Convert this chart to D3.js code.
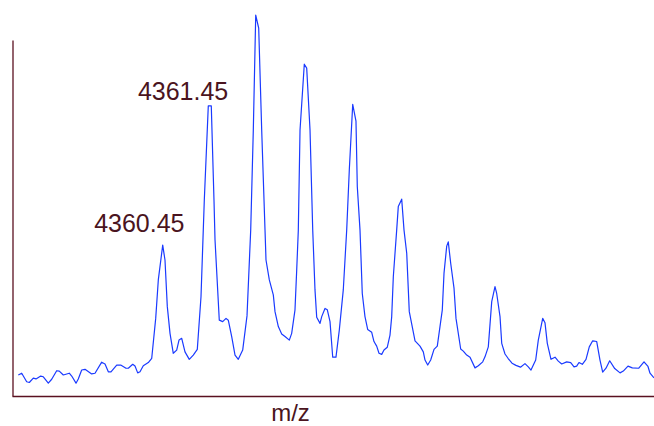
<!DOCTYPE html>
<html>
<head>
<meta charset="utf-8">
<script src="https://cdn.jsdelivr.net/npm/d3@7"></script>
<style>
  html, body { margin: 0; padding: 0; background: #ffffff; }
  svg { display: block; }
</style>
</head>
<body>
<script>
// m/z values (Da) and relative intensity
const mz = [
  4357.383, 4357.455, 4357.560, 4357.615, 4357.700, 4357.757, 4357.856, 4357.911, 4358.016, 4358.088,
  4358.193, 4358.248, 4358.333, 4358.459, 4358.510, 4358.601, 4358.649, 4358.721, 4358.791, 4358.932,
  4359.002, 4359.143, 4359.213, 4359.283, 4359.339, 4359.460, 4359.544, 4359.656, 4359.705, 4359.798,
  4359.846, 4359.903, 4359.952, 4360.021, 4360.127, 4360.199, 4360.283, 4360.338, 4360.431, 4360.479,
  4360.528, 4360.585, 4360.654, 4360.726, 4360.775, 4360.832, 4360.901, 4360.992, 4361.076, 4361.161,
  4361.239, 4361.309, 4361.393, 4361.456, 4361.513, 4361.535, 4361.625, 4361.697, 4361.767, 4361.815,
  4361.887, 4361.957, 4362.026, 4362.119, 4362.210, 4362.288, 4362.343, 4362.394, 4362.457, 4362.520,
  4362.590, 4362.611, 4362.681, 4362.765, 4362.801, 4362.871, 4362.942, 4363.012, 4363.103, 4363.153,
  4363.223, 4363.259, 4363.293, 4363.329, 4363.419, 4363.470, 4363.540, 4363.597, 4363.645, 4363.681,
  4363.751, 4363.787, 4363.856, 4363.905, 4363.962, 4364.019, 4364.088, 4364.158, 4364.242, 4364.314,
  4364.369, 4364.441, 4364.510, 4364.538, 4364.595, 4364.643, 4364.700, 4364.757, 4364.842, 4364.890,
  4364.947, 4364.996, 4365.053, 4365.101, 4365.171, 4365.228, 4365.264, 4365.298, 4365.369, 4365.403,
  4365.475, 4365.524, 4365.581, 4365.635, 4365.756, 4365.861, 4365.931, 4365.967, 4366.024, 4366.087,
  4366.157, 4366.226, 4366.283, 4366.332, 4366.368, 4366.425, 4366.458, 4366.509, 4366.579, 4366.621,
  4366.720, 4366.775, 4366.847, 4366.917, 4367.022, 4367.092, 4367.185, 4367.233, 4367.303, 4367.375,
  4367.444, 4367.480, 4367.550, 4367.586, 4367.655, 4367.719, 4367.803, 4367.887, 4367.982, 4368.077,
  4368.147, 4368.204, 4368.303, 4368.358, 4368.451, 4368.499, 4368.548, 4368.626, 4368.711, 4368.780,
  4368.852, 4368.957, 4369.042, 4369.112, 4369.168, 4369.217, 4369.287, 4369.365, 4369.434, 4369.506,
  4369.591, 4369.660, 4369.717, 4369.787, 4369.865, 4369.971, 4370.083, 4370.152, 4370.251, 4370.342,
  4370.479, 4370.589, 4370.673, 4370.716, 4370.800
];
const intensity = [
  5.9, 6.4, 4.0, 3.8, 5.0, 4.8, 5.6, 5.4, 3.6, 4.7,
  7.1, 7.0, 5.9, 6.4, 5.6, 3.6, 4.8, 7.3, 7.5, 6.2,
  6.4, 9.5, 9.0, 6.8, 6.8, 8.7, 8.7, 7.8, 7.8, 8.9,
  8.4, 6.5, 6.8, 8.5, 9.4, 10.6, 21.8, 32.6, 42.4, 38.2,
  25.1, 17.6, 12.0, 12.9, 15.7, 16.2, 12.4, 10.3, 11.5, 13.1,
  27.9, 55.1, 81.5, 81.5, 55.1, 43.8, 21.3, 20.9, 21.8, 21.3,
  16.7, 11.5, 10.3, 12.9, 22.5, 46.6, 74.7, 107.0, 103.3, 74.7,
  46.6, 38.2, 32.6, 28.4, 23.7, 19.5, 17.4, 16.7, 15.7, 17.6,
  24.2, 35.4, 46.6, 74.7, 93.2, 92.1, 74.7, 46.6, 29.8, 22.1,
  20.4, 22.3, 24.6, 24.2, 20.9, 10.9, 10.9, 18.5, 29.8, 46.6,
  63.5, 81.9, 77.2, 58.8, 46.6, 28.8, 22.3, 18.7, 17.9, 15.3,
  14.0, 12.0, 11.7, 12.9, 13.7, 17.1, 22.3, 33.5, 46.6, 53.2,
  55.3, 46.6, 40.1, 23.7, 15.5, 14.0, 12.4, 10.1, 8.7, 10.1,
  13.1, 14.0, 19.5, 24.2, 34.5, 42.1, 43.3, 37.3, 30.3, 21.8,
  13.2, 12.6, 11.5, 10.9, 7.9, 8.5, 9.6, 11.0, 13.8, 26.5,
  30.7, 28.8, 22.3, 14.8, 11.8, 10.6, 9.2, 8.6, 8.1, 9.1,
  8.2, 7.3, 10.1, 15.7, 21.8, 20.6, 14.8, 10.3, 10.9, 9.8,
  9.0, 9.6, 9.4, 8.2, 8.4, 9.4, 8.9, 10.3, 13.8, 15.5,
  15.3, 10.1, 6.7, 7.8, 9.9, 7.7, 6.5, 7.0, 8.4, 7.9,
  7.8, 9.6, 8.3, 6.4, 5.1
];
// peak annotations (text, anchor m/z, anchor intensity)
const labelTexts = ["4360.45", "4361.45"];
const labelMz = [4360.891, 4361.815];
const labelIntensity = [46.2, 83.1];
const xTitle = "m/z";

const W = 654, H = 426;
const axisColor = "#5a1020";
const textColor = "#4a1420";
const lineColor = "#1a3aff";

const svg = d3.select("body").append("svg")
  .attr("width", W).attr("height", H);

const x = d3.scaleLinear().domain([4357.25, 4370.80]).range([12, 654]);
const y = d3.scaleLinear().domain([0, 100]).range([396, 40]);

const data = mz.map((m, i) => ({ mz: m, v: intensity[i] }));

// axes (no ticks)
const gx = svg.append("g").attr("transform", `translate(0,${y(0)})`)
  .call(d3.axisBottom(x).tickValues([]).tickSizeOuter(0));
const gy = svg.append("g").attr("transform", `translate(${x.range()[0] + 0.5},0)`)
  .call(d3.axisLeft(y).tickValues([]).tickSizeOuter(0));
[gx, gy].forEach(g => g.select(".domain").attr("stroke", axisColor).attr("stroke-width", 1.3));

// spectrum line
svg.append("path")
  .datum(data)
  .attr("fill", "none")
  .attr("stroke", lineColor)
  .attr("stroke-width", 1.2)
  .attr("stroke-linejoin", "round")
  .attr("d", d3.line().x(d => x(d.mz)).y(d => y(d.v)));

// peak labels
svg.selectAll("text.peak")
  .data(labelTexts)
  .join("text")
  .attr("class", "peak")
  .attr("x", (t, i) => x(labelMz[i]))
  .attr("y", (t, i) => y(labelIntensity[i]))
  .attr("text-anchor", "end")
  .attr("font-family", "Liberation Sans, Arial, sans-serif")
  .attr("font-size", 25)
  .attr("fill", textColor)
  .text(t => t);

// x axis title
svg.append("text")
  .attr("x", 290.5)
  .attr("y", 421)
  .attr("text-anchor", "middle")
  .attr("font-family", "Liberation Sans, Arial, sans-serif")
  .attr("font-size", 24)
  .attr("fill", textColor)
  .text(xTitle);
</script>
</body>
</html>
